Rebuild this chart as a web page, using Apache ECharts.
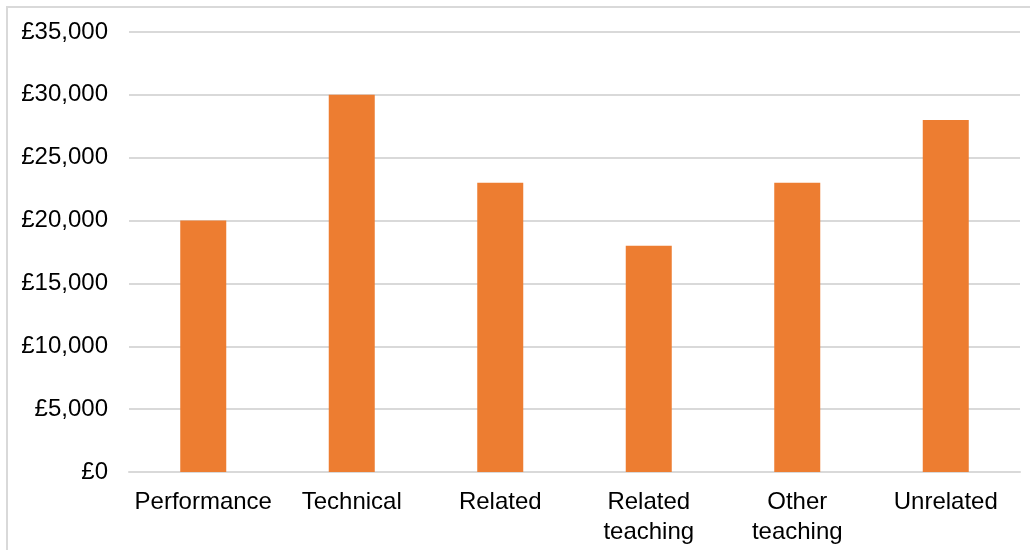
<!DOCTYPE html>
<html>
<head>
<meta charset="utf-8">
<script src="https://cdn.jsdelivr.net/npm/echarts@6/dist/echarts.min.js"></script>
<style>
  html, body { margin: 0; padding: 0; background: #fff; }
  #chart { width: 1030px; height: 550px; }
</style>
</head>
<body>
<div id="chart"></div>
<script>
// Median salary by type of work
const categories = ['Performance', 'Technical', 'Related', 'Related\nteaching', 'Other\nteaching', 'Unrelated'];
const salaries = [20000, 30000, 23000, 18000, 23000, 28000];
const yTicks = { min: 0, max: 35000, interval: 5000 };

const chart = echarts.init(document.getElementById('chart'), null, { renderer: 'canvas' });

const fmt = v => '£' + v.toLocaleString('en-GB');

chart.setOption({
  animation: false,
  backgroundColor: '#ffffff',
  textStyle: { fontFamily: 'Liberation Sans, Arial, sans-serif' },
  graphic: [{
    type: 'rect',
    shape: { x: 7, y: 7, width: 1040, height: 560 },
    style: { fill: 'none', stroke: '#d9d9d9', lineWidth: 2 },
    silent: true
  }],
  grid: { left: 129, right: 10, top: 32, bottom: 78, containLabel: false },
  xAxis: {
    type: 'category',
    data: categories,
    axisLine: { show: true, lineStyle: { color: '#d9d9d9', width: 2 } },
    axisTick: { show: false },
    axisLabel: {
      color: '#000',
      fontSize: 24,
      lineHeight: 30,
      margin: 15,
      interval: 0
    }
  },
  yAxis: {
    type: 'value',
    min: yTicks.min,
    max: yTicks.max,
    interval: yTicks.interval,
    axisLine: { show: false },
    axisTick: { show: false },
    splitLine: { lineStyle: { color: '#d9d9d9', width: 2 } },
    axisLabel: {
      color: '#000',
      fontSize: 24,
      margin: 21,
      formatter: fmt
    }
  },
  series: [{
    type: 'bar',
    data: salaries,
    barWidth: 46,
    itemStyle: { color: '#ed7d31' }
  }]
});
</script>
</body>
</html>
